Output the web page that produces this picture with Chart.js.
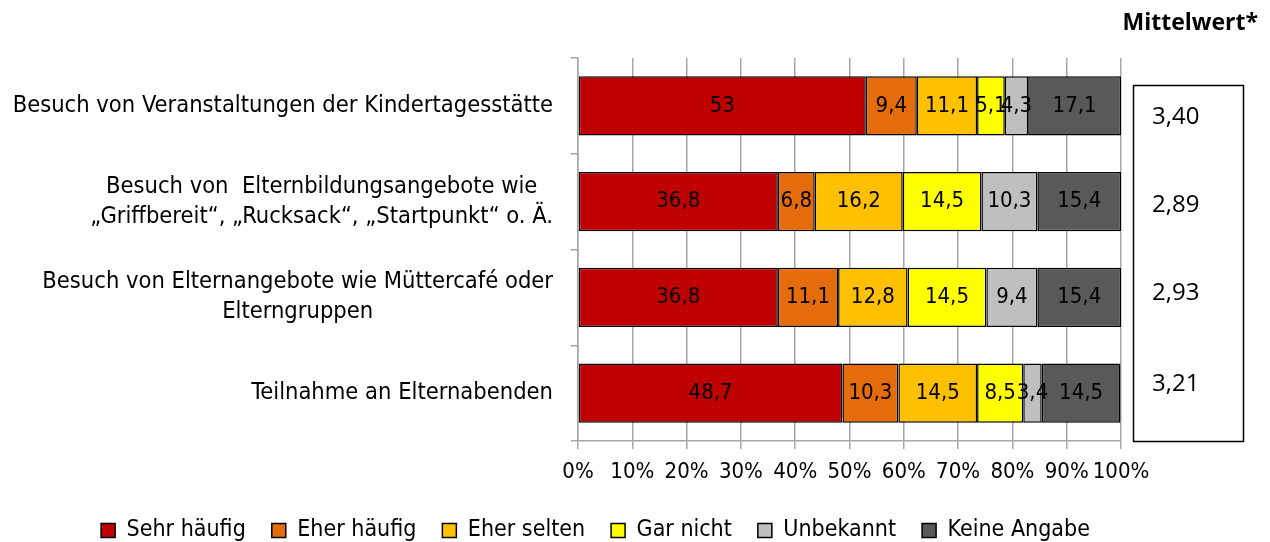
<!DOCTYPE html>
<html>
<head>
<meta charset="utf-8">
<script src="https://cdn.jsdelivr.net/npm/chart.js@4.4.1/dist/chart.umd.min.js"></script>
<style>
  html, body { margin: 0; padding: 0; background: #fff; }
  #wrap { width: 1270px; height: 542px; position: relative; }
</style>
</head>
<body>
<div id="wrap"><canvas id="Chart" width="1270" height="542"></canvas></div>
<script>
// Kategorien (y-Achse)
let categories = [
  ["Besuch von Veranstaltungen der Kindertagesstätte"],
  ["Besuch von  Elternbildungsangebote wie", "„Griffbereit“, „Rucksack“, „Startpunkt“ o. Ä."],
  ["Besuch von Elternangebote wie Müttercafé oder", "Elterngruppen"],
  ["Teilnahme an Elternabenden"]
]
let seriesNames = ["Sehr häufig", "Eher häufig", "Eher selten", "Gar nicht", "Unbekannt", "Keine Angabe"]
let sehrHaeufig = [53, 36.8, 36.8, 48.7]
let eherHaeufig = [9.4, 6.8, 11.1, 10.3]
let eherSelten  = [11.1, 16.2, 12.8, 14.5]
let garNicht    = [5.1, 14.5, 14.5, 8.5]
let unbekannt   = [4.3, 10.3, 9.4, 3.4]
let keineAngabe = [17.1, 15.4, 15.4, 14.5]
let mittelwerte = ["3,40", "2,89", "2,93", "3,21"]
let xTicks = [0, 10, 20, 30, 40, 50, 60, 70, 80, 90, 100]

let colors = ["#C00000", "#E46C0A", "#FFC000", "#FFFF00", "#BFBFBF", "#595959"]
let allSeries = [sehrHaeufig, eherHaeufig, eherSelten, garNicht, unbekannt, keineAngabe]

const FONT = "'Liberation Sans Narrow', 'DejaVu Sans Condensed', sans-serif"

// Werte in die Balken schreiben
const valueLabels = {
  id: "valueLabels",
  afterDatasetsDraw(chart){
    let ctx = chart.ctx
    ctx.save()
    ctx.font = "22px " + FONT
    ctx.fillStyle = "#000"
    ctx.textAlign = "center"
    ctx.textBaseline = "middle"
    chart.data.datasets.forEach((ds, i) => {
      chart.getDatasetMeta(i).data.forEach((bar, j) => {
        let x = (bar.x + bar.base) / 2
        ctx.fillText(String(ds.data[j]).replace(".", ","), x, bar.y)
      })
    })
    ctx.restore()
  }
}

// Kategorienbeschriftung links (mehrzeilig, zentriert im Block, rechtsbündig)
const catLabels = {
  id: "catLabels",
  afterDraw(chart){
    let ctx = chart.ctx
    let y = chart.scales.y
    let right = 553
    ctx.save()
    ctx.font = "23.5px " + FONT
    ctx.fillStyle = "#000"
    ctx.textBaseline = "middle"
    ctx.textAlign = "center"
    categories.forEach((lines, i) => {
      let w = Math.max(...lines.map(l => ctx.measureText(l).width))
      let cx = right - w / 2
      let cy = y.getPixelForValue(i)
      let lh = 30
      lines.forEach((l, k) => {
        ctx.fillText(l, cx, cy + (k - (lines.length - 1) / 2) * lh)
      })
    })
    ctx.restore()
  }
}

// Mittelwert-Kasten rechts
const meanBox = {
  id: "meanBox",
  afterDraw(chart){
    let ctx = chart.ctx
    let y = chart.scales.y
    ctx.save()
    ctx.strokeStyle = "#000"
    ctx.lineWidth = 1.5
    ctx.strokeRect(1133.5, 85.5, 110, 356)
    ctx.font = "24px 'Open Sans', sans-serif"
    ctx.fillStyle = "#000"
    ctx.textAlign = "left"
    ctx.textBaseline = "middle"
    let offs = [11, 4, -4, -9]
    mittelwerte.forEach((m, i) => {
      ctx.fillText(m, 1152, y.getPixelForValue(i) + offs[i])
    })
    ctx.font = "bold 23px 'Open Sans', sans-serif"
    ctx.textAlign = "right"
    ctx.fillText("Mittelwert*", 1258, 23)
    ctx.restore()
  }
}

new Chart("Chart", {
  type: "bar",
  data: {
    labels: categories.map(c => c.join(" ")),
    datasets: seriesNames.map((name, i) => ({
      label: name,
      data: allSeries[i],
      backgroundColor: colors[i],
      borderColor: "#000",
      borderWidth: 1.5,
      borderSkipped: false,
      categoryPercentage: 1,
      barPercentage: 0.62
    }))
  },
  options: {
    indexAxis: "y",
    responsive: false,
    animation: false,
    layout: { padding: { left: 70, right: 149, top: 58, bottom: -10 } },
    plugins: {
      legend: {
        position: "bottom",
        labels: {
          font: { family: FONT, size: 23 },
          color: "#000",
          boxWidth: 14,
          boxHeight: 14,
          padding: 26
        }
      },
      tooltip: { enabled: false }
    },
    scales: {
      x: {
        stacked: true,
        min: 0,
        max: 100,
        afterBuildTicks: s => { s.ticks = xTicks.map(v => ({ value: v })) },
        afterFit: s => { s.height = 52 },
        ticks: {
          callback: v => v + "%",
          font: { family: FONT, size: 22 },
          color: "#000",
          maxRotation: 0,
          autoSkip: false,
          padding: 10
        },
        grid: { color: "#A6A6A6", lineWidth: 1.5, tickLength: 8 },
        border: { color: "#A6A6A6", width: 1.5 }
      },
      y: {
        stacked: true,
        afterFit: s => { s.width = 508 },
        ticks: { display: false },
        grid: { drawOnChartArea: false, color: "#A6A6A6", lineWidth: 1.5, tickLength: 7, offset: true },
        border: { color: "#A6A6A6", width: 1.5 }
      }
    }
  },
  plugins: [valueLabels, catLabels, meanBox]
})
</script>
</body>
</html>
